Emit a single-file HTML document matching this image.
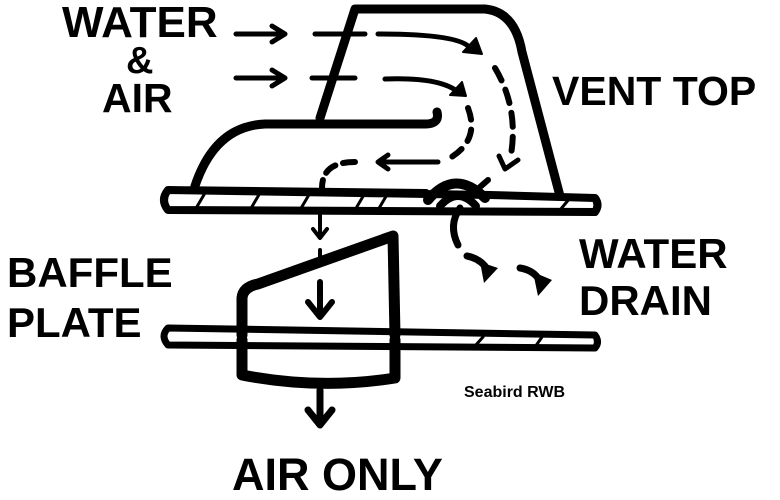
<!DOCTYPE html>
<html><head><style>
body{margin:0;background:#fff;}
svg{display:block}
text{font-family:"Liberation Sans",sans-serif;font-weight:bold;fill:#000}
</style></head><body>
<svg width="780" height="500" viewBox="0 0 780 500">
<g fill="none" stroke="#000" stroke-linecap="round" stroke-linejoin="round">
<path d="M320,118 L355,9 L485,9 Q515,12 522,52 L560,196" stroke-width="9"/>
<path d="M437,112 Q440,124 425,124 L265,124 Q215,126 195,186" stroke-width="9"/>
<path d="M168,190 L426,193 M490,195 L595,198 Q600,205 595,212 L168,210 Q160,200 168,190 Z" stroke-width="8"/>
<path d="M428,200 Q455,168 485,198" stroke-width="10"/>
<path d="M440,206 Q458,186 476,206" stroke-width="8"/>
<path d="M480,187 L488,180" stroke-width="6"/>
<g stroke-width="3">
<path d="M195,210 L205,193 M250,210 L260,193 M300,210 L310,193 M355,210 L365,193 M378,210 L388,193 M560,210 L570,198"/>
</g>
<path d="M168,328 L595,335 Q600,342 595,348 L168,345 Q160,336 168,328 Z" stroke-width="7"/>
<g stroke-width="3"><path d="M475,346 L483,337 M535,347 L542,337"/></g>
<path d="M242,335 L242,298 Q243,287 258,284 L393,236 L395,335" stroke-width="11"/>
<path d="M242,340 L242,375 Q320,390 395,378 L395,340" stroke-width="11"/>
<g stroke-width="5">
<path d="M236,34 L285,34 M272,26 L285,34 L272,42"/>
<path d="M236,78 L285,78 M272,70 L285,78 L272,86"/>
<path d="M315,34 L365,34 M378,34 Q460,34 470,48"/>
<path d="M312,78 L355,78 M385,79 Q440,77 458,92"/>
</g>
<path d="M463,52 L482,54 L476,38 Z" fill="#000" stroke-width="2"/>
<path d="M450,95 L466,96 L462,82 Z" fill="#000" stroke-width="2"/>
<path d="M495,68 Q520,110 510,160" stroke-width="6" stroke-dasharray="14,10"/>
<path d="M499,156 L505,169 L518,160" stroke-width="5"/>
<path d="M468,108 Q480,140 450,158" stroke-width="6" stroke-dasharray="12,10"/>
<path d="M438,162 L380,162" stroke-width="5"/>
<path d="M388,155 L378,162 L388,169" stroke-width="5"/>
<path d="M355,162 Q322,162 322,188" stroke-width="6" stroke-dasharray="12,8"/>
<path d="M320,215 L320,237 M313,229 L320,238 L327,229" stroke-width="4"/>
<path d="M320,250 L320,262" stroke-width="4"/>
<path d="M320,282 L320,315 M308,302 L320,317 L332,302" stroke-width="6"/>
<path d="M320,390 L320,422 M308,410 L320,425 L332,410" stroke-width="7"/>
<path d="M460,208 Q448,225 458,245" stroke-width="7"/>
<path d="M467,256 Q478,258 485,266" stroke-width="7"/>
<path d="M520,268 Q532,270 538,278" stroke-width="7"/>
</g>
<path d="M480,262 L498,268 L484,283 Z" fill="#000"/>
<path d="M533,272 L552,280 L538,296 Z" fill="#000"/>
<text x="62" y="37" font-size="44">WATER</text>
<text x="126" y="73" font-size="38">&amp;</text>
<text x="102" y="112" font-size="41">AIR</text>
<text x="552" y="105" font-size="41">VENT TOP</text>
<text x="7" y="287" font-size="42">BAFFLE</text>
<text x="7" y="337" font-size="42">PLATE</text>
<text x="579" y="268" font-size="42">WATER</text>
<text x="579" y="315" font-size="42">DRAIN</text>
<text x="232" y="490" font-size="45">AIR ONLY</text>
<text x="464" y="397" font-size="16">Seabird RWB</text>
</svg>
</body></html>
